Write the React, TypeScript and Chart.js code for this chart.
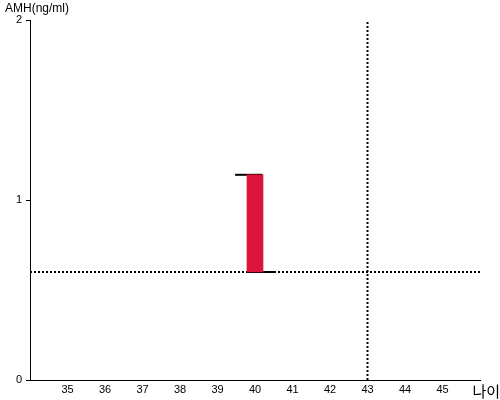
import React, { useEffect, useRef } from "react";
import { Chart, registerables } from "chart.js";

Chart.register(...registerables);

const xTickValues = [35, 36, 37, 38, 39, 40, 41, 42, 43, 44, 45];
const yTickValues = [0, 1, 2];
const barAge = 40;
const barRange: [number, number] = [0.6, 1.14];
const topCapX = [39.47, 40.2];
const bottomCapX = [39.76, 40.53];
const refLineY = 0.6;
const refLineX = 43;
const xMin = 34;
const xMax = 46;
const yMin = 0;
const yMax = 2;
const yTitle = "AMH(ng/ml)";
const xTitle = "나이";

const textPlugin = {
  id: "texts",
  afterDraw(chart: any) {
    const ctx = chart.ctx;
    ctx.save();
    ctx.fillStyle = "#000";
    ctx.textBaseline = "top";
    ctx.textAlign = "left";
    ctx.font = "12px 'Liberation Sans', Arial, sans-serif";
    ctx.fillText(yTitle, 5, 3);
    ctx.font = "15px 'Noto Sans CJK KR', sans-serif";
    ctx.textAlign = "right";
    ctx.textBaseline = "middle";
    ctx.fillText(xTitle, 500, 391);
    ctx.restore();
  },
};

export default function App() {
  const ref = useRef<HTMLCanvasElement>(null);
  useEffect(() => {
    const chart = new Chart(ref.current!, {
      type: "bar",
      data: {
        datasets: [
          {
            type: "bar",
            data: [{ x: barAge, y: barRange }] as any,
            backgroundColor: "#DC143C",
            barThickness: 16,
            borderWidth: 0,
          },
          {
            type: "line",
            data: topCapX.map((x) => ({ x, y: barRange[1] })),
            borderColor: "#000",
            borderWidth: 2,
            pointRadius: 0,
          },
          {
            type: "line",
            data: bottomCapX.map((x) => ({ x, y: barRange[0] })),
            borderColor: "#000",
            borderWidth: 2,
            pointRadius: 0,
          },
          {
            type: "line",
            data: [
              { x: xMin, y: refLineY },
              { x: xMax, y: refLineY },
            ],
            borderColor: "#000",
            borderWidth: 2,
            borderDash: [2, 2],
            pointRadius: 0,
          },
          {
            type: "line",
            data: [
              { x: refLineX, y: yMin },
              { x: refLineX, y: yMax },
            ],
            borderColor: "#000",
            borderWidth: 2,
            borderDash: [2, 2],
            pointRadius: 0,
          },
        ] as any,
      },
      options: {
        animation: false,
        responsive: false,
        layout: { padding: { top: 20, right: 20, left: 0, bottom: 0 } },
        plugins: { legend: { display: false }, tooltip: { enabled: false } },
        scales: {
          x: {
            type: "linear",
            min: xMin,
            max: xMax,
            offset: false,
            afterBuildTicks: (s: any) => {
              s.ticks = xTickValues.map((v) => ({ value: v }));
            },
            afterFit: (s: any) => {
              s.height = 20;
            },
            grid: { display: true, drawOnChartArea: false, drawTicks: false },
            border: { color: "#000", width: 1 },
            ticks: {
              color: "#000",
              font: { size: 11, family: "'Liberation Sans', Arial, sans-serif" },
              padding: 3,
              maxRotation: 0,
              autoSkip: false,
            },
          },
          y: {
            type: "linear",
            min: yMin,
            max: yMax,
            afterBuildTicks: (s: any) => {
              s.ticks = yTickValues.map((v) => ({ value: v }));
            },
            afterFit: (s: any) => {
              s.width = 30;
            },
            grid: {
              display: true,
              drawOnChartArea: false,
              drawTicks: true,
              tickLength: 4,
              color: "#000",
            },
            border: { color: "#000", width: 1 },
            ticks: {
              color: "#000",
              font: { size: 11, family: "'Liberation Sans', Arial, sans-serif" },
              padding: 4,
            },
          },
        },
      } as any,
      plugins: [textPlugin],
    });
    return () => chart.destroy();
  }, []);
  return (
    <div style={{ position: "fixed", left: 0, top: 0, width: 500, height: 400, background: "#fff" }}>
      <canvas ref={ref} width={500} height={400} style={{ width: 500, height: 400 }} />
    </div>
  );
}
